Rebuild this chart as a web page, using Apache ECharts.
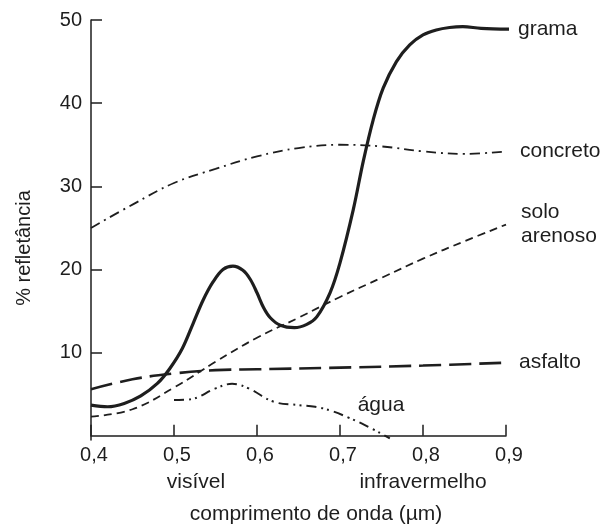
<!DOCTYPE html>
<html>
<head>
<meta charset="utf-8">
<script src="https://cdn.jsdelivr.net/npm/echarts@6.0.0/dist/echarts.min.js"></script>
<style>
html,body{margin:0;padding:0;background:#fff;}
#c{width:602px;height:525px;}
</style>
</head>
<body>
<div id="c"></div>
<script>
var xTicks = [0.4, 0.5, 0.6, 0.7, 0.8, 0.9];
var yTicks = [10, 20, 30, 40, 50];

var grama = [[0.4,3.7],[0.42,3.5],[0.44,3.9],[0.46,4.8],[0.48,6.3],[0.495,8.1],[0.51,10.5],[0.523,13.5],[0.535,16.3],[0.547,18.5],[0.559,20.0],[0.571,20.4],[0.583,19.9],[0.592,18.8],[0.6,17.2],[0.608,15.4],[0.616,14.2],[0.628,13.3],[0.645,13.0],[0.66,13.4],[0.672,14.3],[0.688,17.2],[0.7,20.8],[0.716,27.2],[0.728,33.0],[0.74,38.0],[0.752,41.8],[0.768,45.0],[0.784,47.0],[0.8,48.2],[0.816,48.8],[0.832,49.1],[0.848,49.2],[0.87,49.0],[0.907,48.9]];
var concreto = [[0.4,25.0],[0.45,27.8],[0.5,30.4],[0.55,32.1],[0.6,33.6],[0.65,34.6],[0.7,35.0],[0.75,34.8],[0.8,34.2],[0.85,33.9],[0.9,34.2]];
var soloArenoso = [[0.4,2.3],[0.45,3.2],[0.5,5.8],[0.55,8.9],[0.6,11.8],[0.65,14.2],[0.7,16.7],[0.75,19.0],[0.8,21.3],[0.85,23.4],[0.9,25.4]];
var asfalto = [[0.4,5.6],[0.45,6.8],[0.5,7.5],[0.55,7.9],[0.6,8.0],[0.7,8.2],[0.8,8.45],[0.9,8.8]];
var agua = [[0.5,4.3],[0.52,4.4],[0.55,5.7],[0.57,6.25],[0.59,5.7],[0.62,4.1],[0.65,3.7],[0.67,3.5],[0.69,3.0],[0.71,2.2],[0.73,1.3],[0.76,-0.3]];

var FONT = "'Liberation Sans', Arial, sans-serif";
var INK = '#1e1e1e';

var chart = echarts.init(document.getElementById('c'), null, {renderer:'canvas'});

function endLab(txt, dist){
  return {show:true, formatter: txt, distance: dist, fontSize:21, fontFamily:FONT, color:INK, lineHeight:24, align:'left'};
}

chart.setOption({
  animation:false,
  backgroundColor:'#fff',
  grid:{left:91, right:96, top:20, bottom:85, containLabel:false},
  xAxis:{
    type:'value', min:0.4, max:0.9,
    axisLine:{show:true, lineStyle:{color:INK, width:1.5}},
    axisTick:{show:true, inside:true, length:11, customValues:xTicks, lineStyle:{color:INK, width:1.5}},
    axisLabel:{show:true, customValues:xTicks, margin:5, fontSize:20, fontFamily:FONT, color:INK, padding:[0,0,0,6],
      formatter:function(v){return v.toFixed(1).replace('.', ',');}},
    splitLine:{show:false}
  },
  yAxis:{
    type:'value', min:-0.5, max:50,
    axisLine:{show:true, lineStyle:{color:INK, width:1.5}},
    axisTick:{show:true, inside:true, length:11, customValues:yTicks, lineStyle:{color:INK, width:1.5}},
    axisLabel:{show:true, customValues:yTicks, margin:9, fontSize:20, fontFamily:FONT, color:INK},
    splitLine:{show:false}
  },
  series:[
    {name:'grama', type:'line', data:grama, smooth:0.35, symbol:'none', clip:false,
      lineStyle:{color:INK, width:3.2, type:'solid'}, endLabel:endLab('grama', 9)},
    {name:'concreto', type:'line', data:concreto, smooth:0.4, symbol:'none',
      lineStyle:{color:INK, width:1.8, type:[10,5,2,5]}, endLabel:endLab('concreto', 14)},
    {name:'solo arenoso', type:'line', data:soloArenoso, smooth:0.4, symbol:'none',
      lineStyle:{color:INK, width:1.8, type:[8,5]}, endLabel:endLab('solo\narenoso', 15)},
    {name:'asfalto', type:'line', data:asfalto, smooth:0.4, symbol:'none',
      lineStyle:{color:INK, width:2.6, type:[22,8]}, endLabel:endLab('asfalto', 13)},
    {name:'água', type:'line', data:agua, smooth:0.4, symbol:'none', clip:false,
      lineStyle:{color:INK, width:2, type:[10,5,2,4,2,5]}}
  ],
  graphic:[
    {type:'text', x:381, y:405, style:{text:'água', font:'21px '+FONT, fill:INK, textAlign:'center', textVerticalAlign:'middle'}},
    {type:'text', x:196, y:482, style:{text:'visível', font:'21px '+FONT, fill:INK, textAlign:'center', textVerticalAlign:'middle'}},
    {type:'text', x:423, y:482, style:{text:'infravermelho', font:'21px '+FONT, fill:INK, textAlign:'center', textVerticalAlign:'middle'}},
    {type:'text', x:316, y:514, style:{text:'comprimento de onda (µm)', font:'21px '+FONT, fill:INK, textAlign:'center', textVerticalAlign:'middle'}},
    {type:'text', x:24, y:248, rotation:Math.PI/2, style:{text:'% refletância', font:'20px '+FONT, fill:INK, textAlign:'center', textVerticalAlign:'middle'}}
  ]
});
</script>
</body>
</html>
